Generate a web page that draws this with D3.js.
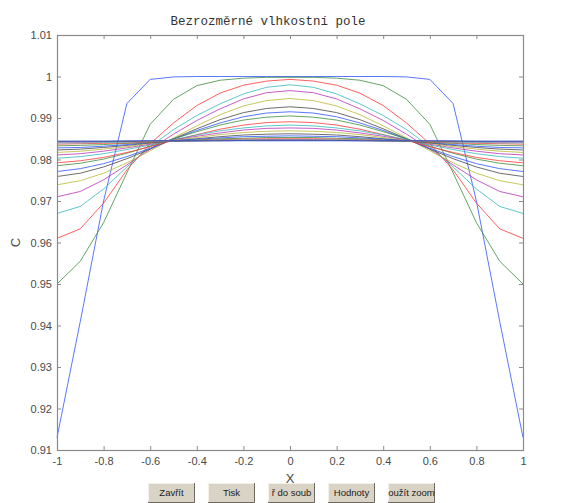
<!DOCTYPE html>
<html>
<head>
<meta charset="utf-8">
<script src="https://cdn.jsdelivr.net/npm/d3@7"></script>
<style>
  html, body { margin: 0; padding: 0; background: #fff; }
  svg { display: block; }
</style>
</head>
<body>
<svg id="fig" width="569" height="503"></svg>
<script>
// Bezrozmerne vlhkostni pole - profiles C(X) for successive time steps

const xValues = [-1,-0.9,-0.8,-0.7,-0.6,-0.5,-0.4,-0.3,-0.2,-0.1,0,0.1,0.2,0.3,0.4,0.5,0.6,0.7,0.8,0.9,1];

const c01 = [0.913,0.941,0.970,0.9935,0.9993,0.9999,1,1,1,1,1,1,1,1,1,0.9999,0.9993,0.9935,0.970,0.941,0.913];
const c02 = [0.950,0.9555,0.9648,0.9768,0.9885,0.9945,0.9978,0.9991,0.9996,0.9998,0.9998,0.9998,0.9996,0.9991,0.9978,0.9945,0.9885,0.9768,0.9648,0.9555,0.950];
const c03 = [0.961,0.9633,0.9695,0.9775,0.9838,0.9888,0.9930,0.9960,0.9979,0.9989,0.9993,0.9989,0.9979,0.9960,0.9930,0.9888,0.9838,0.9775,0.9695,0.9633,0.961];
const c04 = [0.967,0.9687,0.9729,0.9782,0.9831,0.9872,0.9906,0.9934,0.9958,0.9974,0.9980,0.9974,0.9958,0.9934,0.9906,0.9872,0.9831,0.9782,0.9729,0.9687,0.967];
const c05 = [0.971,0.9723,0.9751,0.9787,0.9825,0.9861,0.9894,0.9922,0.9946,0.9961,0.9966,0.9961,0.9946,0.9922,0.9894,0.9861,0.9825,0.9787,0.9751,0.9723,0.971];
const c06 = [0.9739,0.9749,0.9767,0.9792,0.9821,0.9852,0.9881,0.9908,0.9929,0.9942,0.9947,0.9942,0.9929,0.9908,0.9881,0.9852,0.9821,0.9792,0.9767,0.9749,0.9739];
const c07 = [0.9759,0.9767,0.9782,0.9802,0.9825,0.9850,0.9874,0.9896,0.9913,0.9923,0.9927,0.9923,0.9913,0.9896,0.9874,0.9850,0.9825,0.9802,0.9782,0.9767,0.9759];
const c08 = [0.9771,0.9778,0.9790,0.9807,0.9827,0.9849,0.9870,0.9888,0.9903,0.9912,0.9915,0.9912,0.9903,0.9888,0.9870,0.9849,0.9827,0.9807,0.9790,0.9778,0.9771];
const c09 = [0.9785,0.9791,0.9801,0.9815,0.9832,0.9850,0.9867,0.9883,0.9895,0.9902,0.9905,0.9902,0.9895,0.9883,0.9867,0.9850,0.9832,0.9815,0.9801,0.9791,0.9785];
const c10 = [0.9792,0.9797,0.9805,0.9817,0.9831,0.9846,0.9860,0.9873,0.9883,0.9889,0.9891,0.9889,0.9883,0.9873,0.9860,0.9846,0.9831,0.9817,0.9805,0.9797,0.9792];
const c11 = [0.9803,0.9807,0.9814,0.9824,0.9835,0.9848,0.9859,0.9869,0.9876,0.9881,0.9883,0.9881,0.9876,0.9869,0.9859,0.9848,0.9835,0.9824,0.9814,0.9807,0.9803];
const c12 = [0.9811,0.9814,0.9820,0.9828,0.9837,0.9847,0.9856,0.9864,0.9871,0.9875,0.9876,0.9875,0.9871,0.9864,0.9856,0.9847,0.9837,0.9828,0.9820,0.9814,0.9811];
const c13 = [0.9817,0.9820,0.9825,0.9831,0.9839,0.9846,0.9853,0.9860,0.9865,0.9868,0.9869,0.9868,0.9865,0.9860,0.9853,0.9846,0.9839,0.9831,0.9825,0.9820,0.9817];
const c14 = [0.9823,0.9825,0.9829,0.9834,0.9840,0.9845,0.9850,0.9855,0.9859,0.9861,0.9862,0.9861,0.9859,0.9855,0.9850,0.9845,0.9840,0.9834,0.9829,0.9825,0.9823];
const c15 = [0.9828,0.9829,0.9832,0.9836,0.9841,0.9845,0.9849,0.9852,0.9855,0.9856,0.9857,0.9856,0.9855,0.9852,0.9849,0.9845,0.9841,0.9836,0.9832,0.9829,0.9828];
const c16 = [0.9833,0.9834,0.9836,0.9839,0.9841,0.9844,0.9847,0.9850,0.9851,0.9853,0.9853,0.9853,0.9851,0.9850,0.9847,0.9844,0.9841,0.9839,0.9836,0.9834,0.9833];
const c17 = [0.9837,0.9838,0.9839,0.9840,0.9842,0.9844,0.9846,0.9848,0.9849,0.9850,0.9850,0.9850,0.9849,0.9848,0.9846,0.9844,0.9842,0.9840,0.9839,0.9838,0.9837];
const c18 = [0.9840,0.9840,0.9841,0.9842,0.9843,0.9844,0.9845,0.9847,0.9847,0.9848,0.9848,0.9848,0.9847,0.9847,0.9845,0.9844,0.9843,0.9842,0.9841,0.9840,0.9840];
const c19 = [0.9842,0.9842,0.9843,0.9843,0.9844,0.9845,0.9845,0.9846,0.9846,0.9847,0.9847,0.9847,0.9846,0.9846,0.9845,0.9845,0.9844,0.9843,0.9843,0.9842,0.9842];
const c20 = [0.9843,0.9843,0.9843,0.9844,0.9844,0.9845,0.9845,0.9846,0.9846,0.9846,0.9846,0.9846,0.9846,0.9846,0.9845,0.9845,0.9844,0.9844,0.9843,0.9843,0.9843];
const c21 = [0.9844,0.9844,0.9844,0.9844,0.9845,0.9845,0.9845,0.9845,0.9846,0.9846,0.9846,0.9846,0.9846,0.9845,0.9845,0.9845,0.9845,0.9844,0.9844,0.9844,0.9844];
const c22 = [0.9844,0.9844,0.9844,0.9845,0.9845,0.9845,0.9845,0.9845,0.9845,0.9845,0.9845,0.9845,0.9845,0.9845,0.9845,0.9845,0.9845,0.9845,0.9844,0.9844,0.9844];

const curves = [c01,c02,c03,c04,c05,c06,c07,c08,c09,c10,c11,c12,c13,c14,c15,c16,c17,c18,c19,c20,c21,c22];

const xTicks = [-1,-0.8,-0.6,-0.4,-0.2,0,0.2,0.4,0.6,0.8,1];
const yTicks = [0.91,0.92,0.93,0.94,0.95,0.96,0.97,0.98,0.99,1,1.01];

const buttonLabels = ['Zavřít','Tisk','ř do soub','Hodnoty','oužít zoom'];

const CONFIG = {
  left   : 57,
  right  : 523,
  top    : 35,
  bottom : 450,
  tick   : 4,
  axisColour : '#8a8a8a',
  textColour : '#4a4a4a',
  // matlab default colour order, a bit washed out like the screenshot
  lineColours : ['#2f55ff','#3f8f3f','#ff3a3a','#35baba','#ba35ba','#baba35','#484848'],
  lineOpacity : 0.8,
  btnX0  : 148,
  btnStep: 60,
  btnW   : 47,
  btnY   : 483,
  btnH   : 20
};

const svg = d3.select('#fig');

// ---------- scales ----------
const x = d3.scaleLinear().domain([-1, 1]).range([CONFIG.left, CONFIG.right]);
const y = d3.scaleLinear().domain([0.91, 1.01]).range([CONFIG.bottom, CONFIG.top]);

// ---------- curves ----------
const line = d3.line()
  .x((d, i) => x(xValues[i]))
  .y(d => y(d));

svg.append('g')
  .attr('class', 'curves')
  .selectAll('path')
  .data(curves)
  .enter()
  .append('path')
    .attr('d', line)
    .attr('fill', 'none')
    .attr('stroke', (d, i) => CONFIG.lineColours[i % CONFIG.lineColours.length])
    .attr('stroke-opacity', CONFIG.lineOpacity)
    .attr('stroke-width', 1);

// ---------- axes (matlab box, ticks inward) ----------
function styleAxis(g){
  g.select('.domain').remove();
  g.selectAll('.tick line').attr('stroke', CONFIG.axisColour);
  g.selectAll('.tick text')
    .attr('fill', CONFIG.textColour)
    .attr('font-family', 'Liberation Sans, Arial, sans-serif')
    .attr('font-size', 11);
}

svg.append('g')
  .attr('transform', `translate(0,${CONFIG.bottom})`)
  .call(d3.axisBottom(x).tickValues(xTicks).tickSize(-CONFIG.tick).tickSizeOuter(0).tickPadding(7).tickFormat(d => String(d)))
  .call(styleAxis);

svg.append('g')
  .attr('transform', `translate(0,${CONFIG.top})`)
  .call(d3.axisTop(x).tickValues(xTicks).tickSize(-CONFIG.tick).tickSizeOuter(0).tickFormat(''))
  .call(styleAxis);

svg.append('g')
  .attr('transform', `translate(${CONFIG.left},0)`)
  .call(d3.axisLeft(y).tickValues(yTicks).tickSize(-CONFIG.tick).tickSizeOuter(0).tickPadding(5).tickFormat(d => String(d)))
  .call(styleAxis);

svg.append('g')
  .attr('transform', `translate(${CONFIG.right},0)`)
  .call(d3.axisRight(y).tickValues(yTicks).tickSize(-CONFIG.tick).tickSizeOuter(0).tickFormat(''))
  .call(styleAxis);

svg.append('rect')
  .attr('x', CONFIG.left + 0.5)
  .attr('y', CONFIG.top + 0.5)
  .attr('width', CONFIG.right - CONFIG.left)
  .attr('height', CONFIG.bottom - CONFIG.top)
  .attr('fill', 'none')
  .attr('stroke', CONFIG.axisColour)
  .attr('stroke-width', 1.2);

// ---------- labels ----------
svg.append('text')
  .text('Bezrozměrné vlhkostní pole')
  .attr('x', 268)
  .attr('y', 25)
  .attr('text-anchor', 'middle')
  .attr('font-family', 'Liberation Mono, Courier New, monospace')
  .attr('font-size', 12.5)
  .attr('fill', '#333');

svg.append('text')
  .text('X')
  .attr('x', (CONFIG.left + CONFIG.right) / 2)
  .attr('y', 483)
  .attr('text-anchor', 'middle')
  .attr('font-family', 'Liberation Sans, Arial, sans-serif')
  .attr('font-size', 13)
  .attr('fill', CONFIG.textColour);

svg.append('text')
  .text('C')
  .attr('transform', `translate(20,${(CONFIG.top + CONFIG.bottom) / 2}) rotate(-90)`)
  .attr('text-anchor', 'middle')
  .attr('font-family', 'Liberation Sans, Arial, sans-serif')
  .attr('font-size', 13)
  .attr('fill', CONFIG.textColour);

// ---------- figure buttons ----------
const btn = svg.append('g').attr('class', 'buttons')
  .selectAll('g')
  .data(buttonLabels)
  .enter()
  .append('g')
    .attr('transform', (d, i) => `translate(${CONFIG.btnX0 + i * CONFIG.btnStep},${CONFIG.btnY})`);

btn.append('rect')
  .attr('width', CONFIG.btnW).attr('height', CONFIG.btnH)
  .attr('fill', '#d8d3c4');
btn.append('path')
  .attr('d', `M0.5,${CONFIG.btnH} V0.5 H${CONFIG.btnW}`)
  .attr('fill', 'none').attr('stroke', '#f4f1ea');
btn.append('path')
  .attr('d', `M0,${CONFIG.btnH - 0.5} H${CONFIG.btnW - 0.5} V0`)
  .attr('fill', 'none').attr('stroke', '#6e6a60');

btn.append('text')
  .text(d => d)
  .attr('x', CONFIG.btnW / 2)
  .attr('y', 13)
  .attr('text-anchor', 'middle')
  .attr('font-family', 'Liberation Sans, Arial, sans-serif')
  .attr('font-size', 9.5)
  .attr('fill', '#222');
</script>
</body>
</html>
